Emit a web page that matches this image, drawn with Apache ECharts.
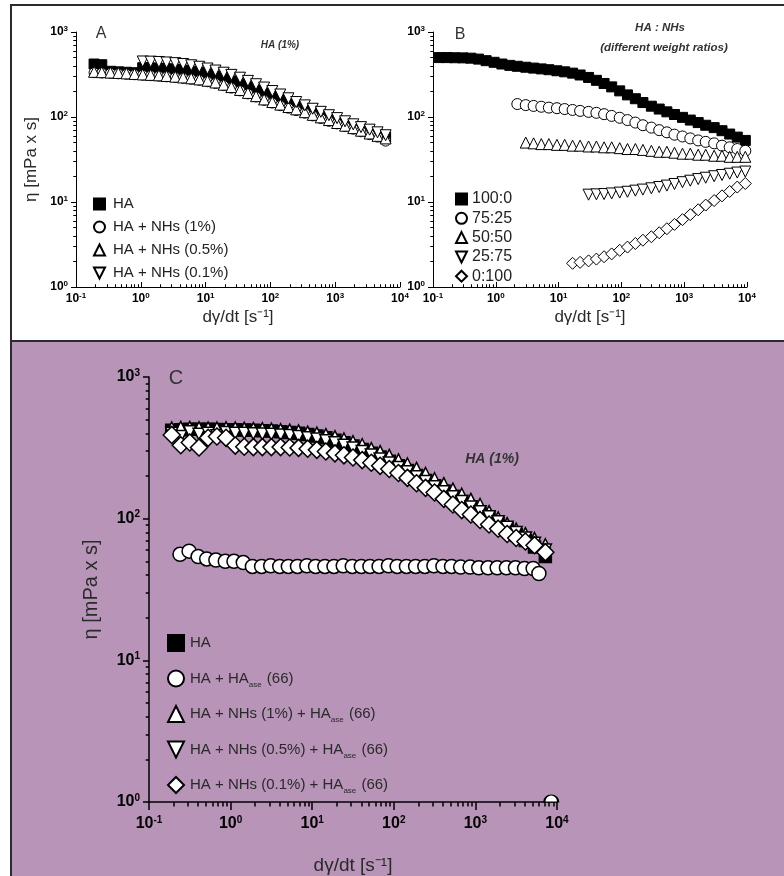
<!DOCTYPE html>
<html><head><meta charset="utf-8">
<script src="https://cdn.jsdelivr.net/npm/echarts@6/dist/echarts.min.js"></script>
<style>html,body{margin:0;padding:0;background:#fff;} #c{width:784px;height:876px;}</style>
</head><body><div id="c"></div>
<script>
// ---------- tick values ----------
const X_DECADES = [0.1, 1, 10, 100, 1000, 10000];
const Y_DECADES = [1, 10, 100, 1000];

// ---------- Panel A : HA (1%) ----------
const xA = [0.19, 0.25, 0.34, 0.45, 0.6, 0.8, 1.07, 1.42, 1.9, 2.5, 3.4, 4.5, 6.0, 8.0, 10.7, 14.2, 19, 25, 34, 45, 60, 80, 107, 142, 190, 250, 340, 450, 600, 800, 1070, 1420, 1900, 2500, 3400, 4500, 6000];
const yA_HA = [420, 412, 345, 340, 336, 332, 380, 378, 375, 370, 364, 356, 346, 334, 320, 303, 285, 266, 246, 226, 207, 189, 174, 160, 148, 136, 125, 115, 106, 98, 91, 84, 78, 72, 67, 63, 58];
const yA_NH1 = [332, 329, 326, 322, 318, 314, 310, 306, 302, 297, 291, 285, 278, 270, 260, 248, 234, 219, 203, 187, 172, 157, 146, 136, 127, 119, 111, 103, 96, 89, 83, 77, 72, 67, 62, 58, 52];
const yA_NH05 = [340, 337, 333, 330, 326, 321, 317, 313, 309, 304, 298, 292, 285, 277, 267, 255, 240, 225, 208, 192, 176, 161, 150, 140, 131, 123, 114, 106, 99, 92, 85, 79, 74, 69, 64, 60, 56];
const xA_NH01 = [1.07, 1.42, 1.9, 2.5, 3.4, 4.5, 6.0, 8.0, 10.7, 14.2, 19, 25, 34, 45, 60, 80, 107, 142, 190, 250, 340, 450, 600, 800, 1070, 1420, 1900, 2500, 3400, 4500, 6000];
const yA_NH01 = [450, 448, 444, 438, 430, 420, 406, 390, 372, 352, 332, 313, 290, 266, 243, 222, 202, 184, 166, 150, 137, 125, 115, 105, 97, 89, 82, 76, 71, 66, 61];
const namesA = ['HA', 'HA + NHs (1%)', 'HA + NHs (0.5%)', 'HA + NHs (0.1%)'];

// ---------- Panel B : HA : NHs ratios ----------
const xB_100 = [0.125, 0.167, 0.22, 0.3, 0.4, 0.53, 0.7, 0.94, 1.25, 1.67, 2.2, 3.0, 4.0, 5.3, 7.0, 9.4, 12.5, 16.7, 22, 30, 40, 53, 70, 94, 125, 167, 220, 300, 400, 530, 700, 940, 1250, 1670, 2200, 3000, 4000, 5300, 7000, 9400];
const yB_100 = [500, 500, 498, 496, 492, 480, 460, 440, 420, 405, 395, 385, 376, 368, 360, 350, 340, 328, 312, 292, 270, 248, 226, 203, 182, 164, 148, 134, 124, 115, 107, 99, 92, 86, 80, 75, 69, 63, 58, 53];
const xB_75 = [2.2, 3.0, 4.0, 5.3, 7.0, 9.4, 12.5, 16.7, 22, 30, 40, 53, 70, 94, 125, 167, 220, 300, 400, 530, 700, 940, 1250, 1670, 2200, 3000, 4000, 5300, 7000, 9400];
const yB_75 = [142, 138, 135, 132, 129, 127, 124, 121, 118, 115, 112, 108, 103, 98, 92, 86, 80, 75, 70, 66, 62, 59, 56, 53, 51, 49, 46, 44, 42, 40];
const xB_50 = [3.0, 4.0, 5.3, 7.0, 9.4, 12.5, 16.7, 22, 30, 40, 53, 70, 94, 125, 167, 220, 300, 400, 530, 700, 940, 1250, 1670, 2200, 3000, 4000, 5300, 7000, 9400];
const yB_50 = [50, 49, 48, 48, 47, 47, 46, 46, 45, 45, 44, 44, 43, 42, 42, 41, 40, 39, 39, 38, 37, 37, 36, 36, 35, 35, 34, 34, 34];
const xB_25 = [30, 40, 53, 70, 94, 125, 167, 220, 300, 400, 530, 700, 940, 1250, 1670, 2200, 3000, 4000, 5300, 7000, 9400];
const yB_25 = [12.2, 12.3, 12.4, 12.6, 12.9, 13.2, 13.6, 14.0, 14.5, 15.0, 15.6, 16.3, 17.1, 17.8, 18.6, 19.3, 20.1, 20.8, 21.5, 22.2, 22.8];
const xB_0 = [16.7, 22, 30, 40, 53, 70, 94, 125, 167, 220, 300, 400, 530, 700, 940, 1250, 1670, 2200, 3000, 4000, 5300, 7000, 9400];
const yB_0 = [1.90, 1.95, 2.03, 2.13, 2.27, 2.45, 2.70, 2.95, 3.25, 3.55, 3.90, 4.35, 4.85, 5.45, 6.2, 7.1, 8.1, 9.2, 10.4, 11.8, 13.3, 15.0, 16.5];
const namesB = ['100:0', '75:25', '50:50', '25:75', '0:100'];

// ---------- Panel C : HA (1%) + HAase ----------
const xC = [0.19, 0.245, 0.316, 0.41, 0.53, 0.68, 0.88, 1.14, 1.47, 1.9, 2.45, 3.16, 4.1, 5.3, 6.8, 8.8, 11.4, 14.7, 19, 24.5, 31.6, 41, 53, 68, 88, 114, 147, 190, 245, 316, 410, 530, 680, 880, 1140, 1470, 1900, 2450, 3160, 4100, 5300, 7200];
const yC_HA = [420, 425, 428, 428, 427, 426, 425, 424, 422, 420, 418, 415, 411, 406, 400, 392, 383, 372, 358, 343, 326, 308, 290, 272, 254, 236, 219, 202, 186, 171, 157, 144, 132, 121, 111, 102, 93, 85, 77, 70, 63, 54];
const yC_NH1 = [440, 445, 445, 442, 440, 440, 442, 440, 438, 436, 435, 432, 428, 425, 420, 412, 405, 395, 382, 368, 352, 335, 315, 300, 282, 262, 245, 228, 210, 193, 178, 163, 150, 138, 127, 113, 102, 93, 85, 79, 73, 66];
const yC_NH05 = [400, 380, 410, 395, 400, 385, 405, 400, 400, 398, 396, 394, 390, 386, 380, 373, 365, 355, 343, 330, 315, 298, 281, 264, 247, 230, 214, 198, 183, 168, 155, 143, 132, 121, 112, 103, 95, 87, 80, 73, 67, 60];
const yC_NH01 = [390, 330, 345, 318, 372, 380, 372, 328, 322, 320, 320, 320, 320, 318, 316, 312, 306, 298, 289, 280, 270, 259, 248, 236, 224, 210, 194, 178, 165, 153, 138, 126, 115, 107, 98, 91, 85, 78, 73, 69, 65, 58];
const xC_ase = [0.24, 0.31, 0.40, 0.51, 0.66, 0.86, 1.1, 1.43, 1.85, 2.4, 3.1, 4.0, 5.1, 6.6, 8.6, 11, 14.3, 18.5, 24, 31, 40, 51, 66, 86, 110, 143, 185, 240, 310, 400, 510, 660, 860, 1100, 1430, 1850, 2400, 3100, 4000, 5100, 6000];
const yC_ase = [56, 59, 54, 52, 51, 50, 50, 49, 46, 46, 46.5, 46, 46, 46, 46.5, 46, 46, 46, 46.5, 46, 46, 46, 46, 46.5, 46, 46, 46, 46, 46.5, 46, 46, 45.5, 45.5, 45, 45, 45, 45, 45, 44.5, 44.5, 41];
const xC_aseLast = 8500;   // point lying on the x axis
const yC_aseLast = 1;
const namesC = ['HA', 'HA + HAase (66)', 'HA + NHs (1%) + HAase (66)', 'HA + NHs (0.5%) + HAase (66)', 'HA + NHs (0.1%) + HAase (66)'];

// ---------- helpers ----------
const FONT = "'Liberation Sans', Arial, sans-serif";
const DOWN_TRI = 'path://M0,0 L20,0 L10,20 Z';
function minorOf(decades) { const out = []; for (let i = 0; i < decades.length - 1; i++) for (let m = 2; m <= 9; m++) out.push(+(decades[i] * m).toPrecision(3)); return out; }
const X_MINOR = minorOf(X_DECADES), Y_MINOR = minorOf(Y_DECADES);
function pow10(v) { const e = Math.round(Math.log10(v)); return '{b|10}{s|' + e + '}'; }
function rich(fs, ss) {
  return { b: { fontSize: fs, fontWeight: 'bold', color: '#000', fontFamily: FONT, lineHeight: fs + 2 },
           s: { fontSize: ss, fontWeight: 'bold', color: '#000', fontFamily: FONT, verticalAlign: 'top', lineHeight: fs + 2 } };
}
function axisPair(dim, grid, min, max, decades, minor, cfg) {
  const major = {
    gridIndex: grid, type: 'log', logBase: 10, min: min, max: max,
    axisLine: { show: true, onZero: false, lineStyle: { color: '#000', width: cfg.lw } },
    axisTick: { show: true, inside: cfg.inside, length: cfg.tl, customValues: decades, lineStyle: { color: '#000', width: cfg.lw } },
    axisLabel: { show: true, customValues: decades, formatter: pow10, margin: cfg.margin, rich: rich(cfg.fs, cfg.ss) },
    splitLine: { show: false }, minorTick: { show: false }, minorSplitLine: { show: false },
    name: cfg.name || '', nameLocation: 'middle', nameGap: cfg.nameGap || 20,
    nameTextStyle: { fontSize: cfg.nfs || 17, color: '#2a2a2a', fontFamily: FONT }
  };
  const mnr = {
    gridIndex: grid, type: 'log', logBase: 10, min: min, max: max,
    axisLine: { show: false },
    axisTick: { show: true, inside: cfg.inside, length: cfg.tl * 0.55, customValues: minor, lineStyle: { color: '#000', width: cfg.lw } },
    axisLabel: { show: false }, splitLine: { show: false }
  };
  if (dim === 'y') { major.position = 'left'; mnr.position = 'left'; } else { major.position = 'bottom'; mnr.position = 'bottom'; }
  return [major, mnr];
}
function sc(name, xs, ys, ax, symbol, size, fill, bw) {
  return {
    type: 'scatter', name: name, xAxisIndex: ax, yAxisIndex: ax,
    data: xs.map((x, i) => [x, ys[i]]),
    symbol: symbol, symbolSize: size,
    itemStyle: { color: fill, borderColor: '#000', borderWidth: bw, opacity: 1 },
    emphasis: { disabled: true }, clip: false, animation: false
  };
}

// ---------- axes ----------
const xAxes = [].concat(
  axisPair('x', 0, 0.1, 10000, X_DECADES, X_MINOR, { lw: 1, inside: true, tl: 5, margin: 5, fs: 12, ss: 8, name: 'dγ/dt [s⁻¹]', nameGap: 22, nfs: 17 }),
  axisPair('x', 1, 0.1, 10000, X_DECADES, X_MINOR, { lw: 1, inside: true, tl: 5, margin: 5, fs: 12, ss: 8, name: 'dγ/dt [s⁻¹]', nameGap: 22, nfs: 17 }),
  axisPair('x', 2, 0.1, 10000, X_DECADES, X_MINOR, { lw: 1.5, inside: false, tl: 8, margin: 13, fs: 16, ss: 10, name: 'dγ/dt [s⁻¹]', nameGap: 54, nfs: 19 })
);
const yAxes = [].concat(
  axisPair('y', 0, 1, 1000, Y_DECADES, Y_MINOR, { lw: 1, inside: false, tl: 5, margin: 8, fs: 12, ss: 8, name: 'η [mPa x s]', nameGap: 36, nfs: 17 }),
  axisPair('y', 1, 1, 1000, Y_DECADES, Y_MINOR, { lw: 1, inside: false, tl: 5, margin: 8, fs: 12, ss: 8, name: '', nameGap: 36, nfs: 17 }),
  axisPair('y', 2, 1, 1000, Y_DECADES, Y_MINOR, { lw: 1.5, inside: false, tl: 6, margin: 9, fs: 16, ss: 10, name: 'η [mPa x s]', nameGap: 48, nfs: 20 })
);

// ---------- series ----------
const series = [
  sc(namesA[0], xA, yA_HA, 0, 'rect', 10, '#000', 1),
  sc(namesA[1], xA, yA_NH1, 0, 'circle', 10, '#fff', 1),
  sc(namesA[2], xA, yA_NH05, 0, 'triangle', 11, '#fff', 1),
  sc(namesA[3], xA_NH01, yA_NH01, 0, DOWN_TRI, 11, '#fff', 1),

  sc(namesB[0], xB_100, yB_100, 2, 'rect', 10, '#000', 1),
  sc(namesB[1], xB_75, yB_75, 2, 'circle', 11, '#fff', 1),
  sc(namesB[2], xB_50, yB_50, 2, 'triangle', 11, '#fff', 1),
  sc(namesB[3], xB_25, yB_25, 2, DOWN_TRI, 11, '#fff', 1),
  sc(namesB[4], xB_0, yB_0, 2, 'diamond', 12, '#fff', 1),

  sc(namesC[0], xC, yC_HA, 4, 'rect', 12, '#000', 1.5),
  sc(namesC[1], xC_ase, yC_ase, 4, 'circle', 14, '#fff', 1.5),
  sc(namesC[2], xC, yC_NH1, 4, 'triangle', 11, '#fff', 1.5),
  sc(namesC[3], xC, yC_NH05, 4, DOWN_TRI, 12, '#fff', 1.5),
  sc(namesC[4], xC, yC_NH01, 4, 'diamond', 17, '#fff', 1.5)
];
// the last HA + HAase point sits on the x axis and shows only its upper half
series[10].data.push({ value: [xC_aseLast, yC_aseLast], symbol: 'path://M0,10 A10,10 0 0 1 20,10 Z', symbolSize: [14, 7], symbolOffset: [0, '-50%'] });

// ---------- legends ----------
const legends = [
  { data: namesA, orient: 'vertical', left: 93, top: 196, padding: 0, itemWidth: 11, itemHeight: 11, itemGap: 7,
    selectedMode: false, textStyle: { fontSize: 15, color: '#222', fontFamily: FONT, lineHeight: 16, padding: [0, 0, 0, 3] } },
  { data: namesB, orient: 'vertical', left: 455, top: 191, padding: 0, itemWidth: 11, itemHeight: 11, itemGap: 3.3,
    selectedMode: false, textStyle: { fontSize: 16, color: '#222', fontFamily: FONT, lineHeight: 16 } },
  { data: namesC, orient: 'vertical', left: 167, top: 633, padding: 0, itemWidth: 16, itemHeight: 16, itemGap: 15.5,
    selectedMode: false,
    formatter: n => n.replace(/HAase/g, 'HA{sub|ase}'),
    textStyle: { fontSize: 15, color: '#2a2a2a', fontFamily: FONT, lineHeight: 20, padding: [0, 0, 0, 1],
      rich: { sub: { fontSize: 8, color: '#2a2a2a', fontFamily: FONT, verticalAlign: 'bottom', lineHeight: 20, padding: [0, 1, 0, 0] } } } }
];

// ---------- graphics ----------
const graphic = [
  { type: 'rect', z: -10, silent: true, shape: { x: 11, y: 5, width: 790, height: 336 }, style: { fill: '#fff', stroke: '#2b2b2b', lineWidth: 2 } },
  { type: 'rect', z: -10, silent: true, shape: { x: 11, y: 341, width: 790, height: 560 }, style: { fill: '#B794B8', stroke: '#2b2b2b', lineWidth: 2 } },
  { type: 'text', z: 10, x: 101, y: 34, style: { text: 'A', fontSize: 16, fill: '#333', fontFamily: FONT, align: 'center', verticalAlign: 'middle' } },
  { type: 'text', z: 10, x: 280, y: 45, style: { text: 'HA (1%)', fontSize: 10, fontWeight: 'bold', fontStyle: 'italic', fill: '#333', fontFamily: FONT, align: 'center', verticalAlign: 'middle' } },
  { type: 'text', z: 10, x: 460, y: 35, style: { text: 'B', fontSize: 16, fill: '#333', fontFamily: FONT, align: 'center', verticalAlign: 'middle' } },
  { type: 'text', z: 10, x: 660, y: 28, style: { text: 'HA : NHs', fontSize: 11.5, fontWeight: 'bold', fontStyle: 'italic', fill: '#333', fontFamily: FONT, align: 'center', verticalAlign: 'middle' } },
  { type: 'text', z: 10, x: 664, y: 48, style: { text: '(different weight ratios)', fontSize: 11.5, fontWeight: 'bold', fontStyle: 'italic', fill: '#333', fontFamily: FONT, align: 'center', verticalAlign: 'middle' } },
  { type: 'text', z: 10, x: 176, y: 378, style: { text: 'C', fontSize: 20, fill: '#333', fontFamily: FONT, align: 'center', verticalAlign: 'middle' } },
  { type: 'text', z: 10, x: 492, y: 459, style: { text: 'HA (1%)', fontSize: 14, fontWeight: 'bold', fontStyle: 'italic', fill: '#333', fontFamily: FONT, align: 'center', verticalAlign: 'middle' } }
];

const chart = echarts.init(document.getElementById('c'), null, { renderer: 'canvas' });
chart.setOption({
  animation: false,
  backgroundColor: '#fff',
  grid: [
    { left: 76, top: 32, width: 324, height: 255, containLabel: false },
    { left: 433, top: 32, width: 314, height: 255, containLabel: false },
    { left: 149, top: 377, width: 408, height: 425, containLabel: false }
  ],
  xAxis: xAxes,
  yAxis: yAxes,
  legend: legends,
  graphic: graphic,
  series: series
});
</script>
</body></html>
